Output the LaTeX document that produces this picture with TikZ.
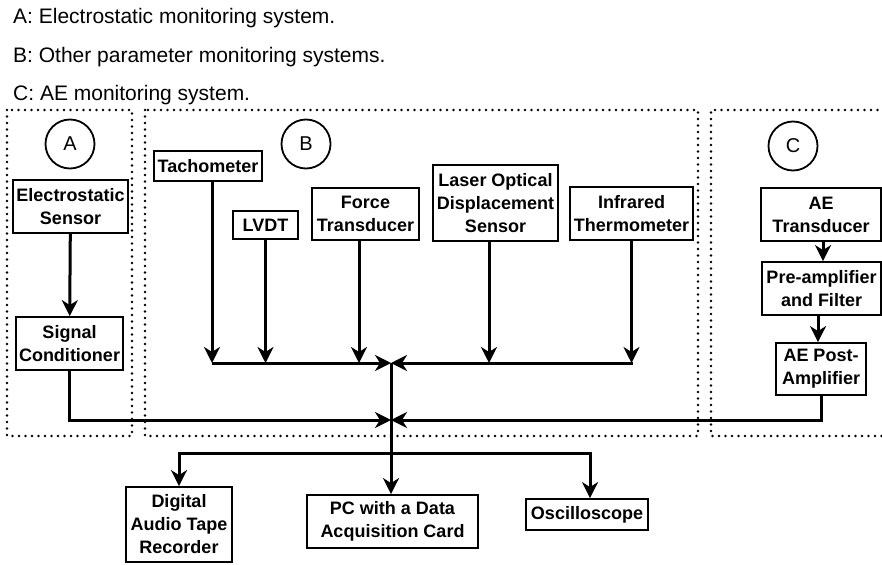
\documentclass[tikz,border=0pt]{standalone}
\usepackage{fontspec}
\setmainfont{Liberation Sans}
\usetikzlibrary{arrows.meta}
\tikzset{
  box/.style={draw, line width=1.8pt, inner sep=0pt, align=center,
    font=\bfseries\fontsize{18}{23}\selectfont},
  arr/.style={line width=3pt, -{Stealth[length=16pt,width=16pt,inset=5pt]}},
  wire/.style={line width=3pt},
  frame/.style={line width=2.9pt, dash pattern=on 0pt off 6.5pt, line cap=round},
  tag/.style={draw, circle, line width=1.8pt, minimum size=49pt, inner sep=0pt,
    font=\fontsize{20}{24}\selectfont},
  legend/.style={anchor=base west, inner sep=0pt, font=\fontsize{21}{25}\selectfont}
}
\begin{document}
\begin{tikzpicture}[x=1pt,y=-1pt]
\useasboundingbox (0,0) rectangle (882,564);

% legend
\node[legend] (la) at (13,24) {A: Electrostatic monitoring system.};
\node[legend] (lb) at (13,63) {B: Other parameter monitoring systems.};
\node[legend] (lc) at (13,101) {C: AE monitoring system.};

% frames
\draw[frame] (7,110) rectangle (132,436);
\draw[frame] (145,110) rectangle (698,436);
\draw[frame] (884,110) -- (711,110) -- (711,436) -- (884,436);

% tags
\node[tag] (ta) at (70,144) {A};
\node[tag] (tbb) at (306,144) {B};
\node[tag] (tc) at (793,146) {C};

% boxes
\node[box, minimum width=115pt, minimum height=53pt] (es) at (70.5,206.5) {Electrostatic\\Sensor};
\node[box, minimum width=107pt, minimum height=53pt] (sc) at (69.5,343.5) {Signal\\Conditioner};
\node[box, minimum width=108pt, minimum height=30pt] (tach) at (208,166) {Tachometer};
\node[box, minimum width=65pt, minimum height=28pt] (lvdt) at (265.5,225) {LVDT};
\node[box, minimum width=107pt, minimum height=52pt] (force) at (365.5,214) {Force\\Transducer};
\node[box, minimum width=125pt, minimum height=76pt] (laser) at (495.5,203) {Laser Optical\\Displacement\\Sensor};
\node[box, minimum width=123pt, minimum height=53pt] (ir) at (631.5,213.5) {Infrared\\Thermometer};
\node[box, minimum width=120pt, minimum height=53pt] (aet) at (821,214.5) {AE\\Transducer};
\node[box, minimum width=119pt, minimum height=53pt] (pre) at (821.5,288.5) {Pre-amplifier\\and Filter};
\node[box, minimum width=90pt, minimum height=52pt] (post) at (821,369) {AE Post-\\Amplifier};
\node[box, minimum width=106pt, minimum height=75pt] (dat) at (179,524.5) {Digital\\Audio Tape\\Recorder};
\node[box, minimum width=171pt, minimum height=53pt] (pc) at (392.5,521.5) {PC with a Data\\Acquisition Card};
\node[box, minimum width=122pt, minimum height=31pt] (osc) at (587,514.5) {Oscilloscope};

% junctions
\coordinate (j1) at (391,363);
\coordinate (j2) at (391,420);
\coordinate (jo) at (391,453);
\coordinate (bl) at (212,363);
\coordinate (br) at (633,363);

% A chain
\draw[arr] (es) -- (sc);
\draw[arr] (sc.south) |- (j2);

% B sensors
\coordinate (tachs) at ([xshift=4pt]tach.south);
\coordinate (forces) at ([xshift=-6.5pt]force.south);
\coordinate (lasers) at ([xshift=-6.5pt]laser.south);
\draw[arr] (tachs) -- (tachs |- bl);
\draw[arr] (lvdt.south) -- (lvdt.south |- bl);
\draw[arr] (forces) -- (forces |- bl);
\draw[arr] (lasers) -- (lasers |- bl);
\draw[arr] (ir.south) -- (ir.south |- bl);
\draw[arr] (bl) -- (j1);
\draw[arr] (br) -- (j1);

% C chain
\coordinate (aets) at ([xshift=2pt]aet.south);
\coordinate (pres) at ([xshift=-3.5pt]pre.south);
\draw[arr] (aets) -- (aets |- pre.north);
\draw[arr] (pres) -- (pres |- post.north);
\draw[arr] (post.south) |- (j2);

% outputs
\draw[arr] (j1) -- (j1 |- pc.north);
\draw[arr] (jo) -| (dat.north);
\draw[arr] (jo) -| ([xshift=3pt]osc.north);
\end{tikzpicture}
\end{document}
